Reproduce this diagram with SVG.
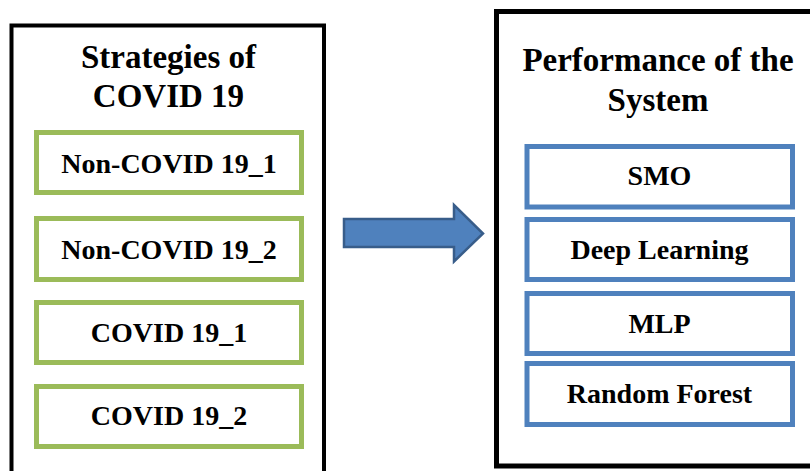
<svg xmlns="http://www.w3.org/2000/svg" width="810" height="471" viewBox="0 0 810 471">
<style>
.t{font-family:"Liberation Serif","Times New Roman",serif;font-weight:bold;fill:#000;text-anchor:middle}
.h{font-size:33px}
.b{font-size:28px}
.outer{fill:#fff;stroke:#000}
.g{fill:#fff;stroke:#9BBB59;stroke-width:5}
.bl{fill:#fff;stroke:#4F81BD;stroke-width:5}
</style>
<rect width="810" height="471" fill="#fff"/>
<g id="left-panel">
<rect class="outer" x="11.5" y="25.5" width="312.5" height="470" stroke-width="4"/>
<text class="t h" x="168.5" y="68">Strategies of</text>
<text class="t h" x="168.5" y="107">COVID 19</text>
</g>
<g id="node-noncovid1"><rect class="g" x="36.5" y="132.5" width="265" height="60"/><text class="t b" x="169" y="173">Non-COVID 19_1</text></g>
<g id="node-noncovid2"><rect class="g" x="36.5" y="218.5" width="265" height="61"/><text class="t b" x="169" y="259">Non-COVID 19_2</text></g>
<g id="node-covid1"><rect class="g" x="36.5" y="302.5" width="265" height="60"/><text class="t b" x="169" y="342">COVID 19_1</text></g>
<g id="node-covid2"><rect class="g" x="36.5" y="386.5" width="265" height="60"/><text class="t b" x="169" y="425">COVID 19_2</text></g>
<g id="right-panel">
<rect class="outer" x="496.5" y="11.5" width="330" height="454.5" stroke-width="5"/>
<text class="t h" x="658" y="71">Performance of the</text>
<text class="t h" x="658" y="111">System</text>
</g>
<g id="node-smo"><rect class="bl" x="527" y="146.5" width="265.5" height="60.5"/><text class="t b" x="659.5" y="185">SMO</text></g>
<g id="node-dl"><rect class="bl" x="527" y="219.5" width="265.5" height="60"/><text class="t b" x="659.5" y="259">Deep Learning</text></g>
<g id="node-mlp"><rect class="bl" x="527" y="293.5" width="265.5" height="60"/><text class="t b" x="659.5" y="333">MLP</text></g>
<g id="node-rf"><rect class="bl" x="527" y="363.5" width="265.5" height="61"/><text class="t b" x="659.5" y="403">Random Forest</text></g>
<g id="connectors">
<polygon points="344,219 454,219 454,205 483,233.5 454,261.5 454,247 344,247" fill="#4F81BD" stroke="#385D8A" stroke-width="2.5" stroke-linejoin="miter"/>
</g>
</svg>
